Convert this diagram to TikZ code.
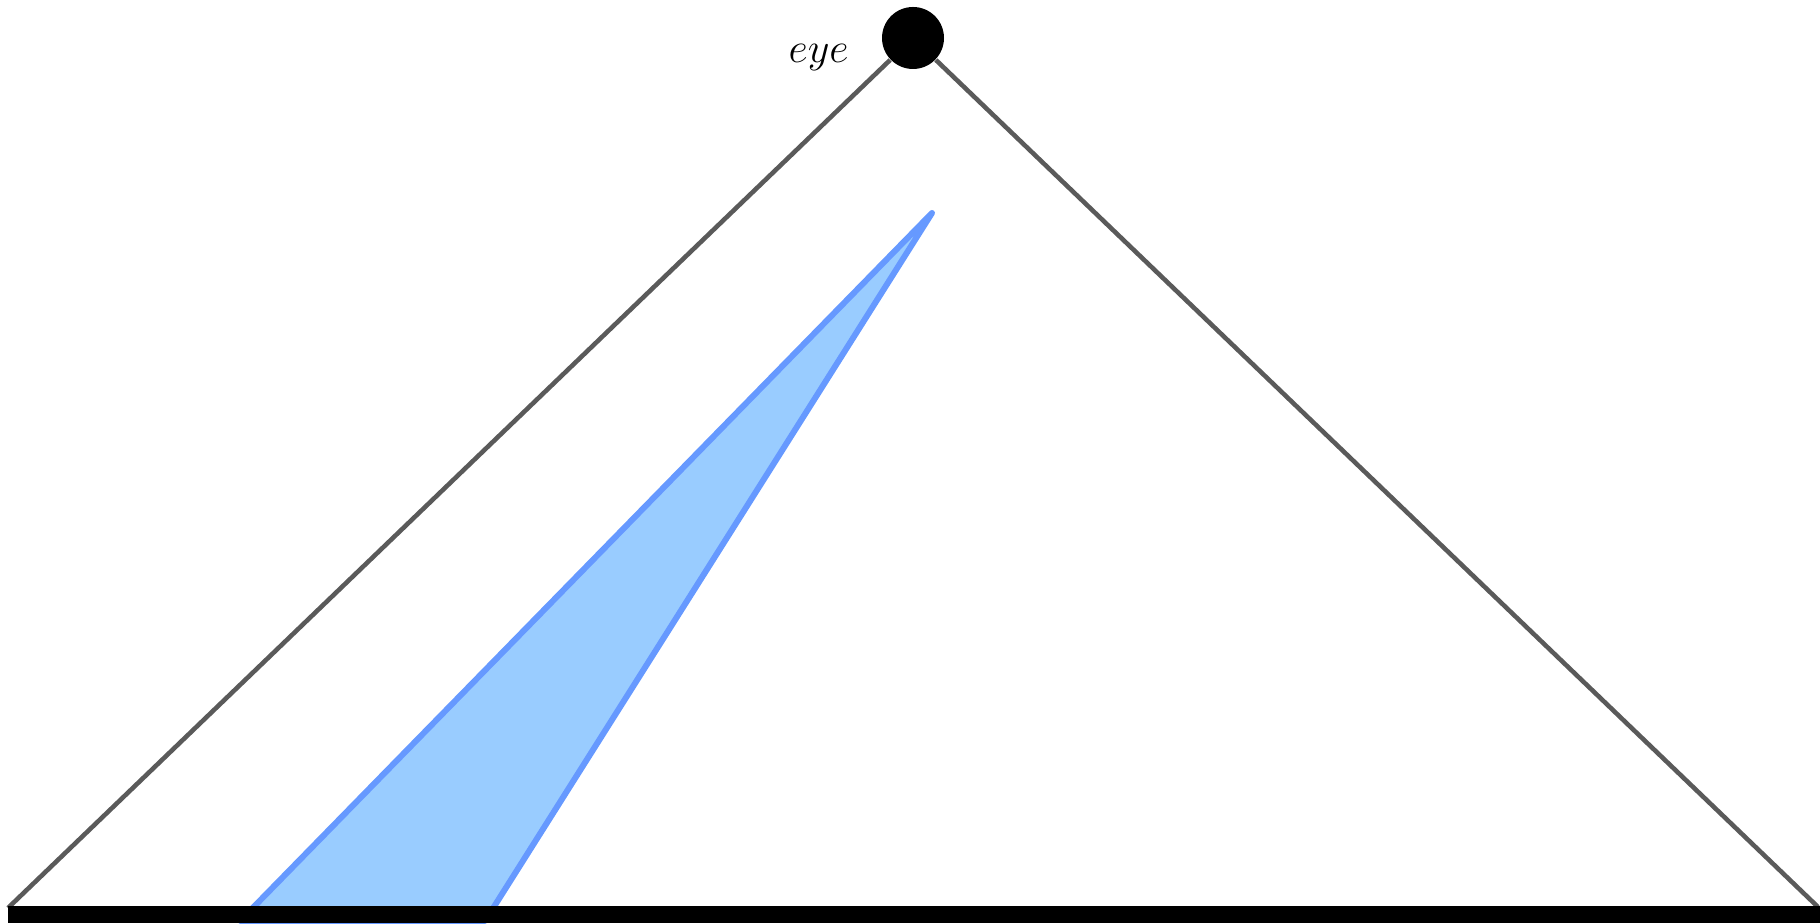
\documentclass[tikz,border=0pt]{standalone}
\usepackage{xcolor}
\usepackage{tikz}
\usetikzlibrary{calc,positioning}
\definecolor{ink}{HTML}{000000}
\definecolor{sight}{HTML}{5A5A5A}
\definecolor{shadeline}{HTML}{6699FF}
\definecolor{shadefill}{HTML}{99CCFF}
\tikzset{
  eyedot/.style={circle,fill=ink,draw=none,minimum size=0.62cm,inner sep=0pt},
  eyelabel/.style={font=\large,inner sep=0pt},
  sightline/.style={draw=sight,line width=1.3pt},
  ground/.style={draw=ink,line width=4.8pt},
  shadow/.style={draw=shadeline,fill=shadefill,line width=1.7pt,line join=round}}

\begin{document}
\begin{tikzpicture}
\useasboundingbox (0,0) rectangle (18.2,9.24);

\coordinate (gl) at (0.08,0.16);
\coordinate (gr) at (18.18,0.17);
\coordinate (g0) at (0.08,0.095);
\coordinate (g1) at (18.2,0.095);
\coordinate (top) at (9.32,7.11);
\coordinate (bl) at (2.4,0.03);
\coordinate (br) at (4.85,0.03);

\node[eyedot] (eye) at (9.13,8.86) {};
\node[eyelabel,left=0.32cm of eye,yshift=-2mm] (eyetext) {$eye$};

\filldraw[shadow] (bl) -- (top) -- (br) -- cycle;
\draw[sightline] (eye) -- (gl);
\draw[sightline] (eye) -- (gr);
\draw[ground] (g0) -- (g1);
\end{tikzpicture}
\end{document}
